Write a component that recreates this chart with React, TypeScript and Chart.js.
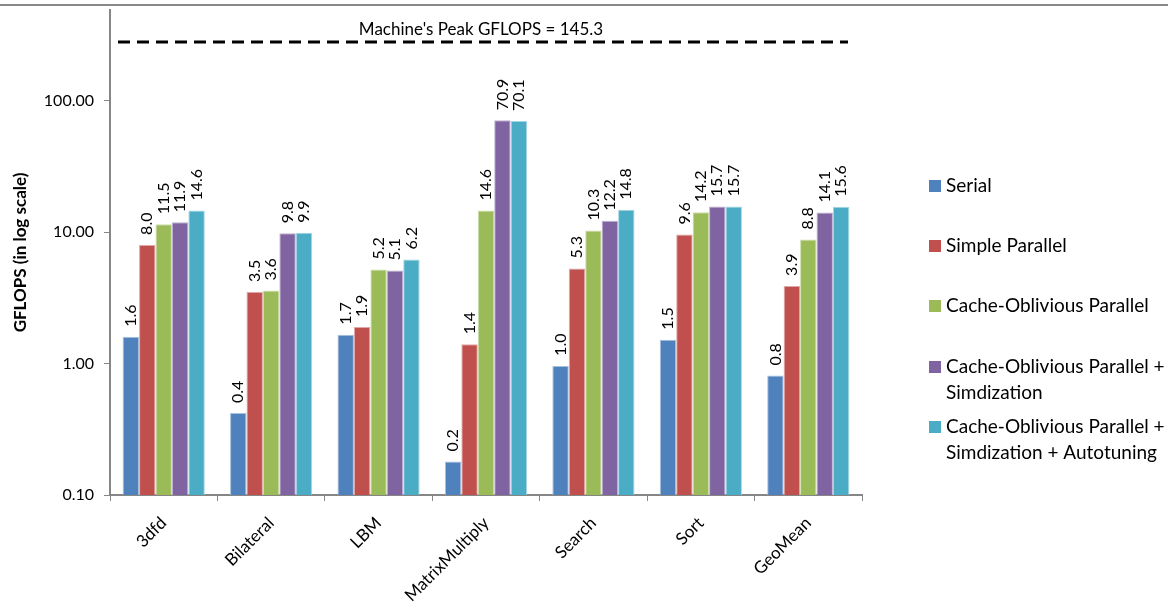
import React, { useEffect, useRef } from 'react';
import { Chart, registerables } from 'chart.js';

Chart.register(...registerables);

const categories = ['3dfd', 'Bilateral', 'LBM', 'MatrixMultiply', 'Search', 'Sort', 'GeoMean'];
const serial = [1.6, 0.42, 1.66, 0.18, 0.96, 1.52, 0.81];
const simpleParallel = [8.0, 3.5, 1.9, 1.4, 5.3, 9.6, 3.9];
const cacheObliviousParallel = [11.5, 3.6, 5.2, 14.6, 10.3, 14.2, 8.8];
const coParallelSimd = [11.9, 9.8, 5.1, 70.9, 12.2, 15.7, 14.1];
const coParallelSimdAutotune = [14.6, 9.9, 6.2, 70.1, 14.8, 15.7, 15.6];
const yTickValues = [0.1, 1, 10, 100];
const yMin = 0.1;
const yMax = 490;
const peakGflops = 145.3;
const peakLineValue = 280;

const seriesNames = [
  ['Serial'],
  ['Simple Parallel'],
  ['Cache-Oblivious Parallel'],
  ['Cache-Oblivious Parallel +', 'Simdization'],
  ['Cache-Oblivious Parallel +', 'Simdization + Autotuning'],
];
const seriesColors = ['#4F81BD', '#C0504D', '#9BBB59', '#8064A2', '#4BACC6'];
const seriesBorders = ['#A7C0DE', '#DFA8A6', '#CDDDAC', '#BFB1D0', '#A5D5E2'];
const seriesValues = [serial, simpleParallel, cacheObliviousParallel, coParallelSimd, coParallelSimdAutotune];

const FONT = 'Lato, "Open Sans", sans-serif';

export default function App() {
  const ref = useRef<HTMLCanvasElement>(null);
  useEffect(() => {
    document.body.style.margin = '0';
    const extras = {
      id: 'extras',
      afterDatasetsDraw(chart: any) {
        const ctx = chart.ctx;
        ctx.save();
        ctx.fillStyle = '#000';
        ctx.font = `16px ${FONT}`;
        ctx.textAlign = 'left';
        ctx.textBaseline = 'middle';
        chart.data.datasets.forEach((ds: any, i: number) => {
          const meta = chart.getDatasetMeta(i);
          meta.data.forEach((el: any, j: number) => {
            ctx.save();
            ctx.translate(el.x, el.y - 10);
            ctx.rotate(-Math.PI / 2);
            ctx.fillText(Number(ds.data[j]).toFixed(1), 0, 0);
            ctx.restore();
          });
        });
        ctx.restore();
      },
      afterDraw(chart: any) {
        const ctx = chart.ctx;
        const yScale = chart.scales.y;
        const area = chart.chartArea;
        ctx.save();
        ctx.strokeStyle = '#888';
        ctx.lineWidth = 2;
        ctx.beginPath();
        ctx.moveTo(0, 5);
        ctx.lineTo(chart.width, 5);
        ctx.stroke();
        const py = yScale.getPixelForValue(peakLineValue);
        ctx.strokeStyle = '#000';
        ctx.lineWidth = 3;
        ctx.setLineDash([12, 7]);
        ctx.beginPath();
        ctx.moveTo(area.left + 8, py);
        ctx.lineTo(area.right - 14, py);
        ctx.stroke();
        ctx.setLineDash([]);
        ctx.fillStyle = '#000';
        ctx.font = `17px ${FONT}`;
        ctx.textAlign = 'center';
        ctx.textBaseline = 'alphabetic';
        ctx.fillText(`Machine's Peak GFLOPS = ${peakGflops}`, 481, py - 7);
        const lx = area.right + 67;
        const rows = [186, 246, 306, 367, 427];
        ctx.font = `19px ${FONT}`;
        ctx.textAlign = 'left';
        ctx.textBaseline = 'middle';
        seriesNames.forEach((lines, i) => {
          const y = rows[i];
          ctx.fillStyle = seriesColors[i];
          ctx.fillRect(lx, y - 6, 12, 12);
          ctx.fillStyle = '#000';
          lines.forEach((t, k) => ctx.fillText(t, lx + 17, y + k * 26));
        });
        ctx.restore();
      },
    };

    const chart = new Chart(ref.current!, {
      type: 'bar',
      data: {
        labels: categories,
        datasets: seriesValues.map((vals, i) => ({
          label: seriesNames[i].join(' '),
          data: vals,
          backgroundColor: seriesColors[i],
          borderColor: seriesBorders[i],
          borderWidth: 1,
          categoryPercentage: 0.765,
          barPercentage: 1,
        })),
      },
      options: {
        animation: false,
        responsive: true,
        maintainAspectRatio: false,
        layout: { padding: { top: 10, right: 306, left: 0, bottom: 0 } },
        plugins: { legend: { display: false }, tooltip: { enabled: false } },
        scales: {
          x: {
            afterFit: (s: any) => { s.height = 112; s.paddingLeft = 0; s.paddingRight = 0; },
            border: { color: '#868686', width: 2 },
            grid: { display: true, drawOnChartArea: false, drawTicks: true, tickLength: 6, color: '#868686', offset: true },
            ticks: {
              color: '#000',
              font: { size: 17, family: FONT },
              minRotation: 45,
              maxRotation: 45,
              autoSkip: false,
              padding: 12,
            },
          },
          y: {
            type: 'logarithmic',
            min: yMin,
            max: yMax,
            afterFit: (s: any) => { s.width = 110; s.paddingTop = 0; s.paddingBottom = 0; },
            afterBuildTicks: (s: any) => { s.ticks = yTickValues.map((v) => ({ value: v })); },
            border: { color: '#868686', width: 2 },
            grid: { display: true, drawOnChartArea: false, drawTicks: true, tickLength: 6, color: '#868686' },
            ticks: {
              color: '#000',
              font: { size: 16, family: FONT },
              padding: 10,
              callback: (v: any) => Number(v).toFixed(2),
            },
            title: {
              display: true,
              text: 'GFLOPS (in log scale)',
              color: '#000',
              font: { size: 17, weight: 'bold', family: FONT },
              padding: { top: 10, bottom: 0 },
            },
          },
        },
      },
      plugins: [extras],
    } as any);
    return () => chart.destroy();
  }, []);
  return (
    <div style={{ width: 1168, height: 607, position: 'relative' }}>
      <canvas ref={ref} />
    </div>
  );
}
